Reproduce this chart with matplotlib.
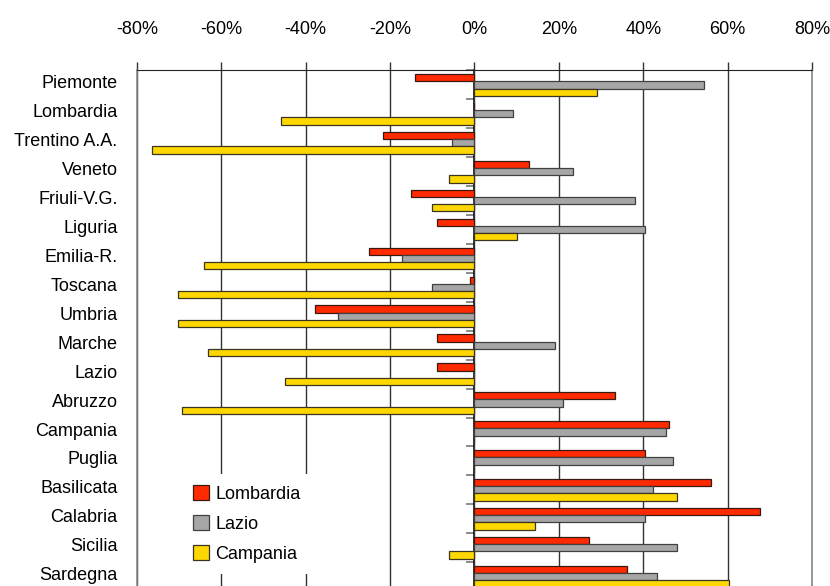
import matplotlib
matplotlib.use("Agg")
import matplotlib.pyplot as plt
import matplotlib.transforms as mtransforms
import numpy as np

regions = ["Piemonte", "Lombardia", "Trentino A.A.", "Veneto", "Friuli-V.G.",
           "Liguria", "Emilia-R.", "Toscana", "Umbria", "Marche", "Lazio",
           "Abruzzo", "Campania", "Puglia", "Basilicata", "Calabria",
           "Sicilia", "Sardegna"]

lombardia = [-14.2, 0.0, -21.8, 12.9, -15.1, -9.0, -25.1, -1.0, -37.9, -9.0,
             -9.0, 33.4, 46.2, 40.4, 56.1, 67.6, 27.2, 36.1]
lazio = [54.3, 9.1, -5.3, 23.4, 38.1, 40.4, -17.1, -10.0, -32.3, 19.1,
         0.0, 21.0, 45.3, 47.1, 42.3, 40.4, 48.0, 43.3]
campania = [29.0, -45.9, -76.5, -6.1, -10.0, 10.0, -64.1, -70.3, -70.3, -63.1,
            -45.0, -69.3, 0.0, 0.0, 48.0, 14.3, -6.1, 60.4]

series_names = ["Lombardia", "Lazio", "Campania"]
xticks = [-80, -60, -40, -20, 0, 20, 40, 60, 80]

plt.rcParams.update({
    "font.family": ["Liberation Sans", "DejaVu Sans"],
    "font.size": 13,
})

colors = ["#ff2a00", "#a6a6a6", "#ffd700"]
edges = ["#3a1a10", "#404040", "#3a3520"]

fig = plt.figure(figsize=(8.3, 5.86), dpi=100)
ax = fig.add_axes([0.16506, -0.0087, 0.81325, 0.8884])

pos = np.arange(len(regions))
h = 0.25
for k, (vals, name) in enumerate(zip([lombardia, lazio, campania], series_names)):
    ax.barh(pos + (k - 1) * h, vals, height=h, color=colors[k],
            edgecolor=edges[k], linewidth=0.9, label=name, zorder=3)

ax.set_xlim(-80, 80)
ax.set_ylim(len(regions) - 0.5, -0.5)
ax.set_xticks(xticks)
ax.set_xticklabels([f"{t}%" for t in xticks])
ax.xaxis.tick_top()
ax.tick_params(axis="x", length=6, width=1, color="#333333", pad=17.5)
ax.set_yticks(pos)
ax.set_yticklabels(regions)
ax.tick_params(axis="y", length=0, pad=14)

# category labels sit a little above the group centre, as in the original
lift = mtransforms.ScaledTranslation(0, 3 / 100, fig.dpi_scale_trans)
for lbl in ax.get_yticklabels():
    lbl.set_transform(lbl.get_transform() + lift)

ax.grid(axis="x", color="#333333", linewidth=1)
ax.set_axisbelow(True)
for side in ("left", "right"):
    ax.spines[side].set_color("#888888")
    ax.spines[side].set_linewidth(1.2)
ax.spines["top"].set_color("#222222")
ax.spines["bottom"].set_visible(False)

# zero line with the small category-boundary ticks
sec = ax.secondary_yaxis(0.5)
sec.set_yticks(np.arange(-0.5, len(regions), 1))
sec.set_yticklabels([])
sec.tick_params(direction="in", length=5.5, width=1.2, color="#777777")
sec.spines["right"].set_color("black")
sec.spines["right"].set_linewidth(1.1)
sec.spines["right"].set_zorder(4)

leg = ax.legend(loc="upper left", bbox_to_anchor=(0.0667, 0.2247),
                borderaxespad=0, frameon=True, fancybox=False,
                handlelength=0.9, handleheight=0.9, handletextpad=0.35,
                labelspacing=0.68, borderpad=0.6, fontsize=13)
leg.get_frame().set_edgecolor("none")
leg.get_frame().set_facecolor("white")
leg.get_frame().set_alpha(1)
leg.set_zorder(5)

fig.savefig("out.png", dpi=100)
